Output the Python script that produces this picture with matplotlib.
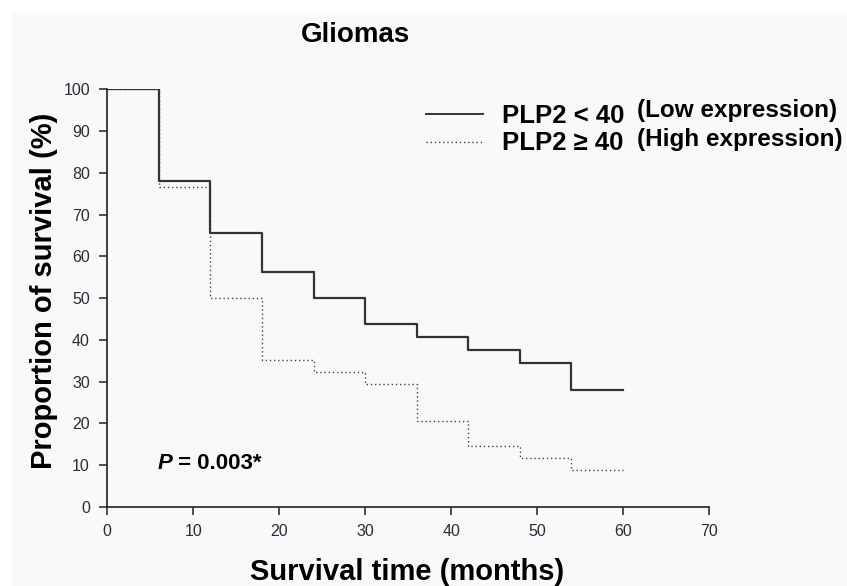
import matplotlib
matplotlib.use("Agg")
import matplotlib.pyplot as plt
from matplotlib.lines import Line2D
from matplotlib.patches import Rectangle

plt.rcParams['font.family'] = ['Liberation Sans', 'DejaVu Sans']

# Data (Kaplan-Meier steps)
months = [0, 6, 12, 18, 24, 30, 36, 42, 48, 54, 60]
low_expr = [100, 78.1, 65.6, 56.3, 50.0, 43.8, 40.6, 37.5, 34.4, 28.1, 28.1]
high_expr = [100, 76.5, 50.0, 35.3, 32.4, 29.4, 20.6, 14.7, 11.8, 8.8, 8.8]
xticks = [0, 10, 20, 30, 40, 50, 60, 70]
yticks = [0, 10, 20, 30, 40, 50, 60, 70, 80, 90, 100]

W, H = 847, 586
fig = plt.figure(figsize=(W / 100, H / 100), dpi=100)
fig.patch.set_facecolor('#f9f9f9')
# white band at top / left edges
fig.add_artist(Rectangle((0, 1 - 13 / H), 1, 13 / H, transform=fig.transFigure,
                         facecolor='white', edgecolor='none', zorder=0))
fig.add_artist(Rectangle((0, 0), 12 / W, 1, transform=fig.transFigure,
                         facecolor='white', edgecolor='none', zorder=0))

x0, x1 = 107.3, 709
y0, y1 = 507, 89.3
ax = fig.add_axes([x0 / W, 1 - y0 / H, (x1 - x0) / W, (y0 - y1) / H])
ax.set_facecolor('none')

ax.step(months, low_expr, where='post', color='#333333', lw=1.6, zorder=3)
ax.step(months, high_expr, where='post', color='#444444', lw=1.0,
        linestyle=(0, (1, 2)), zorder=2)

ax.set_xlim(0, 70)
ax.set_ylim(0, 100)
ax.set_xticks(xticks)
ax.set_yticks(yticks)
for s in ['top', 'right']:
    ax.spines[s].set_visible(False)
for s in ['left', 'bottom']:
    ax.spines[s].set_color('#222222')
    ax.spines[s].set_linewidth(1.2)
ax.tick_params(axis='both', direction='out', length=6, width=1.1, color='#222222',
               labelsize=11.5, labelcolor='#2a2a3a')
ax.tick_params(axis='y', pad=6.5)
ax.tick_params(axis='x', pad=6)

pt = ax.text(5.8, 8.0, 'P', fontsize=16, fontweight='bold', fontstyle='italic',
             va='bottom', ha='left')
ax.annotate(' = 0.003*', xy=(1, 0), xycoords=pt, fontsize=16, fontweight='bold',
            va='bottom', ha='left')

# Title and axis labels
fig.text(355 / W, 1 - 42 / H, 'Gliomas', fontsize=20, fontweight='bold',
         ha='center', va='baseline')
fig.text(407 / W, 1 - 580.5 / H, 'Survival time (months)', fontsize=21,
         fontweight='bold', ha='center', va='baseline')
fig.text(52 / W, 1 - 291 / H, 'Proportion of survival (%)', fontsize=21,
         fontweight='bold', ha='center', va='baseline', rotation=90,
         rotation_mode='anchor')

# Legend (manual)
fig.add_artist(Line2D([426 / W, 483 / W], [1 - 114.3 / H, 1 - 114.3 / H],
                      transform=fig.transFigure, color='#333333', lw=1.4))
fig.add_artist(Line2D([426 / W, 483 / W], [1 - 142.3 / H, 1 - 142.3 / H],
                      transform=fig.transFigure, color='#444444', lw=1.0,
                      linestyle=(0, (1, 2))))
fig.text(502 / W, 1 - 123 / H, 'PLP2 < 40', fontsize=18.5, fontweight='bold',
         ha='left', va='baseline')
fig.text(637 / W, 1 - 117.5 / H, '(Low expression)', fontsize=17.5, fontweight='bold',
         ha='left', va='baseline')
fig.text(502 / W, 1 - 150 / H, 'PLP2 \u2265 40', fontsize=18.5, fontweight='bold',
         ha='left', va='baseline')
fig.text(637 / W, 1 - 145.7 / H, '(High expression)', fontsize=17.5, fontweight='bold',
         ha='left', va='baseline')

fig.savefig('out.png', dpi=100, facecolor=fig.get_facecolor())
